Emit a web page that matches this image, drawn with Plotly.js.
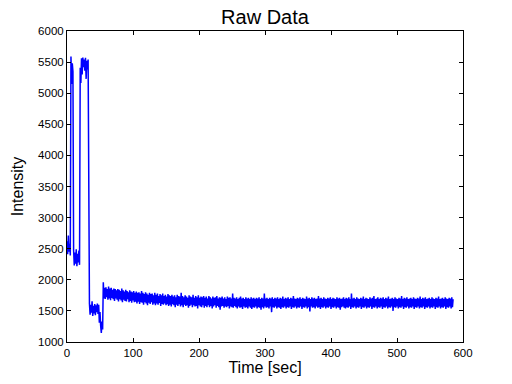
<!DOCTYPE html>
<html>
<head>
<meta charset="utf-8">
<script src="https://cdn.plot.ly/plotly-3.0.1.min.js"></script>
<style>html,body{margin:0;padding:0;background:#fff;}#chart{width:512px;height:384px;}</style>
</head>
<body>
<div id="chart"></div>
<script>
// Sampling of the raw signal (seconds between samples, starting at 0 s)
const sampleStart = 0;
const sampleInterval = 1;

// Raw intensity samples (one per second, 0..585 s)
const intensity = [
2620,2410,2712,2450,2580,2390,5590,5150,5480,5350,
2480,2230,2440,2260,2490,2220,2420,2280,2470,2240,
5410,5166,5560,5300,5575,5420,5540,5360,5570,5230,5520,5380,5540,
1957,
1620,1440,1600,1470,1655,1420,1580,1460,1610,1430,1590,1480,1620,1450,1600,
1310,1480,1260,1146,1330,1200,
1960,1700,1870,1690,1880,1720,1850,1680,1890,1700,
1860,1670,1870,1710,1840,1690,1860,1660,1850,1700,
1830,1680,1850,1650,1840,1690,1820,1670,1860,1640,
1830,1680,1810,1660,1840,1650,1820,1690,1800,1640,
1830,1660,1810,1630,1800,1670,1820,1640,1790,1650,
1810,1620,1790,1650,1800,1610,1780,1640,1820,1630,
1790,1600,1770,1640,1800,1620,1780,1590,1760,1630,
1790,1610,1770,1640,1780,1600,1750,1620,1790,1590,
1760,1620,1780,1600,1740,1630,1770,1580,1750,1610,
1780,1600,1740,1620,1760,1590,1730,1610,1770,1580,
1750,1600,1740,1570,1760,1610,1730,1590,1750,1560,
1720,1600,1760,1580,1740,1610,1730,1570,1790,1590,
1740,1560,1720,1600,1750,1580,1730,1590,1710,1550,
1750,1580,1730,1600,1720,1560,1760,1590,1710,1570,
1740,1580,1720,1540,1750,1590,1710,1570,1730,1560,
1720,1590,1740,1550,1710,1580,1730,1560,1700,1590,
1740,1560,1720,1580,1700,1540,1730,1570,1710,1590,
1720,1550,1740,1580,1700,1560,1720,1520,1710,1570,
1730,1580,1700,1550,1720,1570,1690,1560,1730,1580,
1710,1540,1720,1570,1700,1560,1780,1550,1710,1580,
1700,1560,1720,1540,1690,1570,1710,1550,1730,1560,
1700,1530,1710,1570,1690,1550,1720,1560,1700,1540,
1710,1570,1690,1550,1720,1530,1700,1560,1710,1550,
1690,1570,1710,1540,1700,1560,1720,1550,1690,1520,
1710,1560,1700,1540,1780,1570,1700,1550,1710,1560,
1690,1540,1710,1570,1700,1480,1720,1560,1690,1550,
1710,1570,1700,1540,1720,1560,1690,1550,1710,1530,
1700,1560,1730,1550,1690,1570,1710,1540,1700,1560,
1720,1550,1690,1570,1710,1530,1700,1560,1740,1550,
1700,1570,1690,1540,1710,1560,1700,1550,1720,1570,
1690,1530,1710,1560,1700,1550,1690,1570,1730,1540,
1700,1560,1710,1490,1690,1570,1720,1550,1700,1560,
1710,1540,1690,1570,1700,1550,1740,1560,1700,1530,
1710,1560,1690,1550,1720,1570,1700,1540,1690,1560,
1710,1550,1700,1570,1720,1530,1690,1560,1710,1550,
1700,1570,1690,1540,1720,1560,1700,1550,1710,1520,
1690,1560,1700,1570,1720,1550,1690,1540,1710,1560,
1700,1550,1720,1570,1690,1530,1780,1560,1700,1550,
1710,1570,1690,1540,1720,1560,1700,1550,1690,1570,
1710,1530,1700,1560,1730,1550,1690,1570,1710,1540,
1700,1560,1690,1550,1720,1570,1700,1530,1710,1560,
1740,1550,1690,1570,1700,1540,1720,1560,1690,1550,
1710,1570,1700,1530,1720,1560,1690,1550,1710,1570,
1700,1540,1730,1560,1690,1550,1700,1570,1710,1500,
1690,1560,1720,1550,1700,1570,1690,1540,1710,1560,
1700,1550,1740,1570,1690,1530,1710,1560,1700,1550,
1720,1570,1690,1540,1700,1560,1710,1550,1690,1570,
1720,1530,1700,1560,1690,1550,1710,1570,1700,1540,
1730,1560,1690,1550,1710,1570,1700,1530,1720,1560,
1690,1550,1700,1570,1710,1540,1690,1560,1720,1550,
1700,1570,1690,1530,1710,1560,1700,1550,1730,1570,
1690,1540,1700,1560,1710,1550,1690,1570,1720,1530,
1700,1560,1690,1550,1710,1570,1700,1540,1720,1560,
1690
];

const xTicks = [0, 100, 200, 300, 400, 500, 600];
const yTicks = [1000, 1500, 2000, 2500, 3000, 3500, 4000, 4500, 5000, 5500, 6000];

const time = intensity.map((_, i) => sampleStart + i * sampleInterval);

const font = 'Liberation Sans, Arial, Helvetica, sans-serif';

const trace = {
  x: time,
  y: intensity,
  type: 'scatter',
  mode: 'lines',
  line: {color: '#0000ff', width: 1.5},
  hoverinfo: 'skip'
};

const axisCommon = {
  showgrid: false,
  zeroline: false,
  showline: true,
  linecolor: '#000',
  linewidth: 1,
  mirror: 'ticks',
  ticks: 'inside',
  ticklen: 4,
  tickwidth: 1,
  tickcolor: '#000',
  tickfont: {family: font, size: 11.5, color: '#000'}
};

const layout = {
  width: 512,
  height: 384,
  margin: {l: 67, r: 49, t: 31, b: 42, pad: 0},
  paper_bgcolor: '#fff',
  plot_bgcolor: '#fff',
  showlegend: false,
  title: {text: 'Raw Data', font: {family: font, size: 20, color: '#000'}, xref: 'paper', x: 0.5, xanchor: 'center', y: 0.955, yanchor: 'middle'},
  xaxis: Object.assign({}, axisCommon, {
    range: [0, 600],
    tickvals: xTicks,
    ticktext: xTicks.map(String),
    title: {text: 'Time [sec]', font: {family: font, size: 16, color: '#000'}, standoff: 4}
  }),
  yaxis: Object.assign({}, axisCommon, {
    range: [1000, 6000],
    tickvals: yTicks,
    ticktext: yTicks.map(String),
    title: {text: 'Intensity', font: {family: font, size: 16, color: '#000'}, standoff: 10}
  })
};

Plotly.newPlot('chart', [trace], layout, {staticPlot: true, displayModeBar: false});
</script>
</body>
</html>
